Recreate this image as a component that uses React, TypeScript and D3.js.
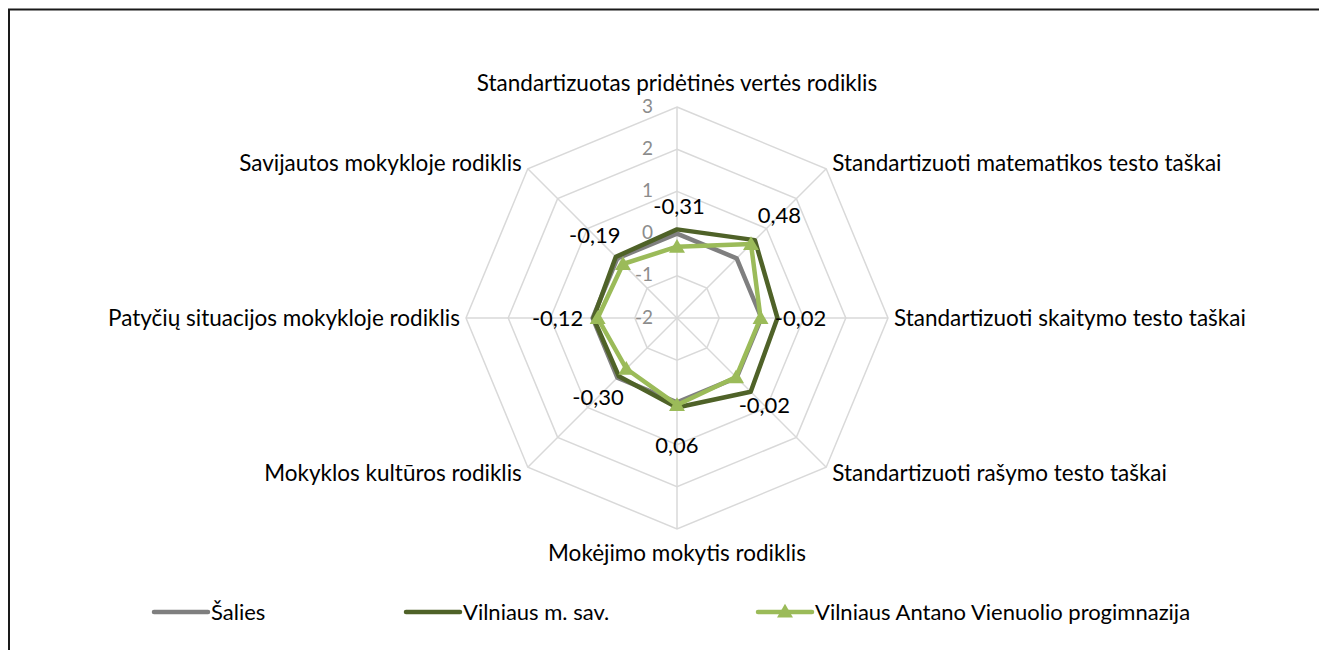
//@ts-nocheck
import React, { useEffect, useRef } from "react";
import * as d3 from "d3";

const axes = [
  "Standartizuotas pridėtinės vertės rodiklis",
  "Standartizuoti matematikos testo taškai",
  "Standartizuoti skaitymo testo taškai",
  "Standartizuoti rašymo testo taškai",
  "Mokėjimo mokytis rodiklis",
  "Mokyklos kultūros rodiklis",
  "Patyčių situacijos mokykloje rodiklis",
  "Savijautos mokykloje rodiklis",
];

const salies = [0, 0, 0, 0, 0, 0, 0, 0];
const vilniusSav = [0.1, 0.61, 0.38, 0.47, 0.12, -0.05, -0.02, 0.05];
const progimnazija = [-0.31, 0.48, -0.02, -0.02, 0.06, -0.3, -0.12, -0.19];
const ticks = [-2, -1, 0, 1, 2, 3];
const seriesNames = ["Šalies", "Vilniaus m. sav.", "Vilniaus Antano Vienuolio progimnazija"];

const FONT = "Lato, 'Open Sans', sans-serif";

export default function App() {
  const ref = useRef(null);

  useEffect(() => {
    const svg = d3.select(ref.current);
    svg.selectAll("*").remove();
    const g = svg.append("g").attr("transform", "translate(-8,-8)");

    // chart frame (only top and left edge visible)
    g.append("path")
      .attr("d", "M9,700 L9,9.5 L1400,9.5")
      .attr("fill", "none")
      .attr("stroke", "#1a1a1a")
      .attr("stroke-width", 2);

    const cx = 677, cy = 318, R = 211;
    const r = d3.scaleLinear().domain([-2, 3]).range([0, R]);
    const angle = (i) => (i * 2 * Math.PI) / axes.length;
    const pt = (i, v) => [cx + r(v) * Math.sin(angle(i)), cy - r(v) * Math.cos(angle(i))];

    // grid rings
    ticks.slice(1).forEach((t) => {
      g.append("path")
        .attr("d", d3.line()(axes.map((_, i) => pt(i, t))) + "Z")
        .attr("fill", "none")
        .attr("stroke", "#d9d9d9")
        .attr("stroke-width", 1.5);
    });
    // spokes
    axes.forEach((_, i) => {
      const [x, y] = pt(i, 3);
      g.append("line")
        .attr("x1", cx).attr("y1", cy).attr("x2", x).attr("y2", y)
        .attr("stroke", "#d9d9d9")
        .attr("stroke-width", 1.5);
    });

    // tick labels
    ticks.forEach((t) => {
      g.append("text")
        .attr("x", cx - 24)
        .attr("y", cy - r(t) - 1)
        .attr("dy", "0.35em")
        .attr("text-anchor", "end")
        .attr("font-family", FONT)
        .attr("font-size", 19)
        .attr("fill", "#8c8c8c")
        .text(t);
    });

    // category labels
    axes.forEach((name, i) => {
      const a = angle(i);
      const s = Math.sin(a), c = Math.cos(a);
      const [x, y] = pt(i, 3);
      let anchor = "middle", dx = 0, dy = 0;
      if (s > 0.1) { anchor = "start"; dx = 6; }
      else if (s < -0.1) { anchor = "end"; dx = -6; }
      if (c > 0.9) dy = -24;
      else if (c < -0.9) dy = 24;
      else if (c > 0.1) dy = -6;
      else if (c < -0.1) dy = 6;
      g.append("text")
        .attr("x", x + dx)
        .attr("y", y + dy)
        .attr("dy", "0.35em")
        .attr("text-anchor", anchor)
        .attr("font-family", FONT)
        .attr("font-size", 22.5)
        .attr("fill", "#000")
        .text(name);
    });

    const line = d3.line().curve(d3.curveLinearClosed);
    const drawSeries = (vals, color) => {
      g.append("path")
        .attr("d", line(vals.map((v, i) => pt(i, v))))
        .attr("fill", "none")
        .attr("stroke", color)
        .attr("stroke-width", 4.5)
        .attr("stroke-linejoin", "round");
    };
    drawSeries(salies, "#7f7f7f");
    drawSeries(vilniusSav, "#4f6228");
    drawSeries(progimnazija, "#9bbb59");

    const tri = d3.symbol().type(d3.symbolTriangle).size(110);
    progimnazija.forEach((v, i) => {
      const [x, y] = pt(i, v);
      g.append("path")
        .attr("d", tri())
        .attr("transform", `translate(${x},${y + 1.5})`)
        .attr("fill", "#9bbb59");
    });

    // data labels
    const fmt = (v) => d3.format(".2f")(v).replace("−", "-").replace(".", ",");
    progimnazija.forEach((v, i) => {
      const [x, y] = pt(i, v);
      const a = angle(i);
      const off = 40;
      g.append("text")
        .attr("x", x + off * Math.sin(a) + (i === 0 ? 2 : 0))
        .attr("y", y - off * Math.cos(a))
        .attr("dy", "0.35em")
        .attr("text-anchor", "middle")
        .attr("font-family", FONT)
        .attr("font-size", 22)
        .attr("fill", "#000")
        .text(fmt(v));
    });

    // legend
    const legend = [
      { x: 154, color: "#7f7f7f", marker: false },
      { x: 406, color: "#4f6228", marker: false },
      { x: 758, color: "#9bbb59", marker: true },
    ];
    legend.forEach((l, k) => {
      const ly = 612;
      g.append("line")
        .attr("x1", l.x).attr("y1", ly).attr("x2", l.x + 54).attr("y2", ly)
        .attr("stroke", l.color)
        .attr("stroke-width", 4.5)
        .attr("stroke-linecap", "round");
      if (l.marker) {
        g.append("path")
          .attr("d", tri())
          .attr("transform", `translate(${l.x + 27},${ly + 1})`)
          .attr("fill", l.color);
      }
      g.append("text")
        .attr("x", l.x + 57)
        .attr("y", ly)
        .attr("dy", "0.35em")
        .attr("font-family", FONT)
        .attr("font-size", 22)
        .attr("fill", "#000")
        .text(seriesNames[k]);
    });
  }, []);

  return (
    <svg ref={ref} width={1319} height={642} style={{ display: "block", background: "#fff" }} />
  );
}
